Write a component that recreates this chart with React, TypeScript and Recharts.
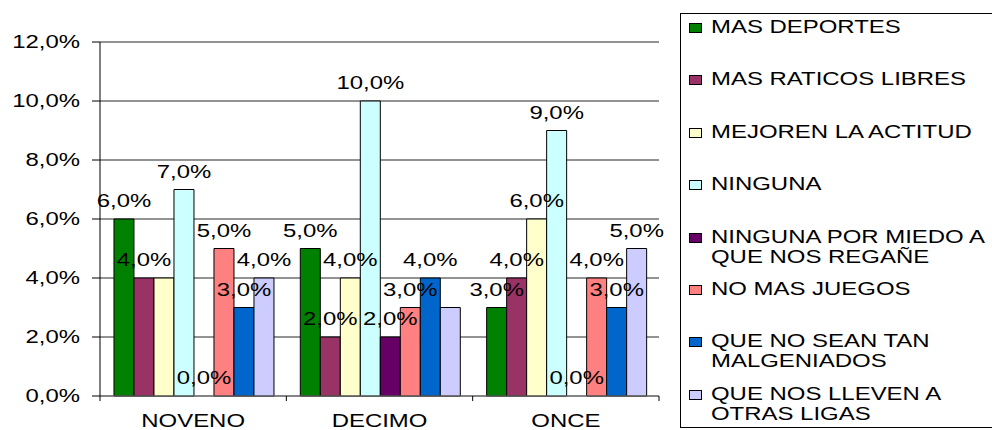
import React from 'react';
import { BarChart, Bar, XAxis, YAxis, CartesianGrid, LabelList, Legend, Rectangle } from 'recharts';

const categories = ['NOVENO', 'DECIMO', 'ONCE'];
const seriesNames = [
  'MAS DEPORTES',
  'MAS RATICOS LIBRES',
  'MEJOREN LA ACTITUD',
  'NINGUNA',
  'NINGUNA POR MIEDO A QUE NOS REGAÑE',
  'NO MAS JUEGOS',
  'QUE NO SEAN TAN MALGENIADOS',
  'QUE NOS LLEVEN A OTRAS LIGAS',
];
const masDeportes = [6, 5, 3];
const masRaticosLibres = [4, 2, 4];
const mejorenLaActitud = [4, 4, 6];
const ninguna = [7, 10, 9];
const ningunaPorMiedo = [0, 2, 0];
const noMasJuegos = [5, 3, 4];
const queNoSeanTan = [3, 4, 3];
const queNosLleven = [4, 3, 5];
const yTicks = [0, 2, 4, 6, 8, 10, 12];
const hiddenLabels = [
  ['NOVENO', 'MEJOREN LA ACTITUD'],
  ['DECIMO', 'QUE NOS LLEVEN A OTRAS LIGAS'],
];

const seriesValues = [
  masDeportes,
  masRaticosLibres,
  mejorenLaActitud,
  ninguna,
  ningunaPorMiedo,
  noMasJuegos,
  queNoSeanTan,
  queNosLleven,
];
const colors = ['#008000', '#993366', '#FFFFCC', '#CCFFFF', '#660066', '#FF8080', '#0066CC', '#CCCCFF'];

const fmt = (v: number) => v.toFixed(1).replace('.', ',') + '%';

const data = categories.map((c, i) => {
  const row: any = { category: c };
  seriesNames.forEach((s, j) => {
    row['s' + j] = seriesValues[j][i];
    const hidden = hiddenLabels.some(([hc, hs]) => hc === c && hs === s);
    row['l' + j] = hidden ? '' : fmt(seriesValues[j][i]);
  });
  return row;
});

const W = 992;
const H = 430;
const MARGIN = { top: 42, right: 333, bottom: 0, left: 0 };
const Y_W = 100;
const PLOT_W = W - MARGIN.left - MARGIN.right - Y_W;
const SX = 1.33;
const FONT = '"Liberation Sans", Arial, sans-serif';

const YTick = (props: any) => {
  const { x, y, payload } = props;
  return (
    <text
      transform={`translate(${x},${y}) scale(${SX},1)`}
      textAnchor="end"
      dy="0.35em"
      fontSize={18}
      fontFamily={FONT}
      fill="#000"
    >
      {fmt(payload.value)}
    </text>
  );
};

const XTick = (props: any) => {
  const { x, y, payload, index } = props;
  const band = PLOT_W / categories.length;
  const left = x - band / 2;
  return (
    <g>
      <line x1={left} x2={left} y1={y} y2={y + 5} stroke="#000" />
      {index === categories.length - 1 && (
        <line x1={x + band / 2} x2={x + band / 2} y1={y} y2={y + 5} stroke="#000" />
      )}
      <text
        transform={`translate(${x},${y + 31}) scale(${SX},1)`}
        textAnchor="middle"
        fontSize={18}
        fontFamily={FONT}
        fill="#000"
      >
        {payload.value}
      </text>
    </g>
  );
};

const BarLabel = (props: any) => {
  const vb = props.viewBox || {};
  const x = props.x ?? vb.x;
  const y = props.y ?? vb.y;
  const width = props.width ?? vb.width;
  const { value } = props;
  if (!value) return null;
  return (
    <text
      transform={`translate(${x + width / 2},${y - 12}) scale(${SX},1)`}
      textAnchor="middle"
      fontSize={18}
      fontFamily={FONT}
      fill="#000"
    >
      {value}
    </text>
  );
};

const BarShape = (props: any) => {
  if (!(Math.abs(props.height) >= 0.5)) return <g />;
  return <Rectangle {...props} />;
};

const LegendBox = () => (
  <div
    style={{
      position: 'relative',
      width: 312,
      height: 415,
      boxSizing: 'border-box',
      border: '1px solid #000',
      borderRight: 'none',
      background: '#fff',
      fontFamily: FONT,
      fontSize: 18,
      lineHeight: '20px',
      color: '#000',
    }}
  >
    {seriesNames.map((s, i) => (
      <div key={s} style={{ position: 'absolute', left: 0, top: 14 + 52.4 * i - 10 - 1 }}>
        <div
          style={{
            position: 'absolute',
            left: 8,
            top: 6,
            width: 13,
            height: 10,
            boxSizing: 'border-box',
            border: '1px solid #000',
            background: colors[i],
          }}
        />
        <div
          style={{
            position: 'absolute',
            left: 30,
            top: 0,
            width: 212,
            transform: `scaleX(${SX})`,
            transformOrigin: 'left top',
            whiteSpace: 'normal',
          }}
        >
          {s}
        </div>
      </div>
    ))}
  </div>
);

export default function App() {
  return (
    <div style={{ position: 'absolute', left: 0, top: 0, width: W, height: H, overflow: 'hidden', background: '#fff' }}>
      <BarChart width={W} height={H} data={data} margin={MARGIN} barCategoryGap="7.5%" barGap={0}>
        <CartesianGrid horizontal vertical={false} stroke="#000" strokeOpacity={0.85} />
        <XAxis
          dataKey="category"
          height={34}
          tickLine={false}
          tickSize={0}
          tickMargin={0}
          axisLine={{ stroke: '#777' }}
          tick={<XTick />}
          interval={0}
        />
        <YAxis
          width={Y_W}
          domain={[0, 12]}
          ticks={yTicks}
          tickSize={8}
          tickMargin={12}
          tickLine={{ stroke: '#000' }}
          axisLine={{ stroke: '#000' }}
          tick={<YTick />}
          interval={0}
        />
        <YAxis
          yAxisId="r"
          orientation="right"
          width={0}
          domain={[0, 12]}
          tick={false}
          tickLine={false}
          axisLine={{ stroke: '#a0a0a0', strokeWidth: 2 }}
        />
        {seriesNames.map((s, j) => (
          <Bar
            key={s}
            dataKey={'s' + j}
            name={s}
            fill={colors[j]}
            stroke="#000"
            strokeWidth={1}
            minPointSize={0.01}
            shape={<BarShape />}
            isAnimationActive={false}
          >
            <LabelList dataKey={'l' + j} content={<BarLabel />} />
          </Bar>
        ))}
        <Legend
          layout="vertical"
          align="center"
          verticalAlign="middle"
          wrapperStyle={{ left: 680, top: 13, width: 312, height: 415 }}
          content={() => <LegendBox />}
        />
      </BarChart>
    </div>
  );
}
